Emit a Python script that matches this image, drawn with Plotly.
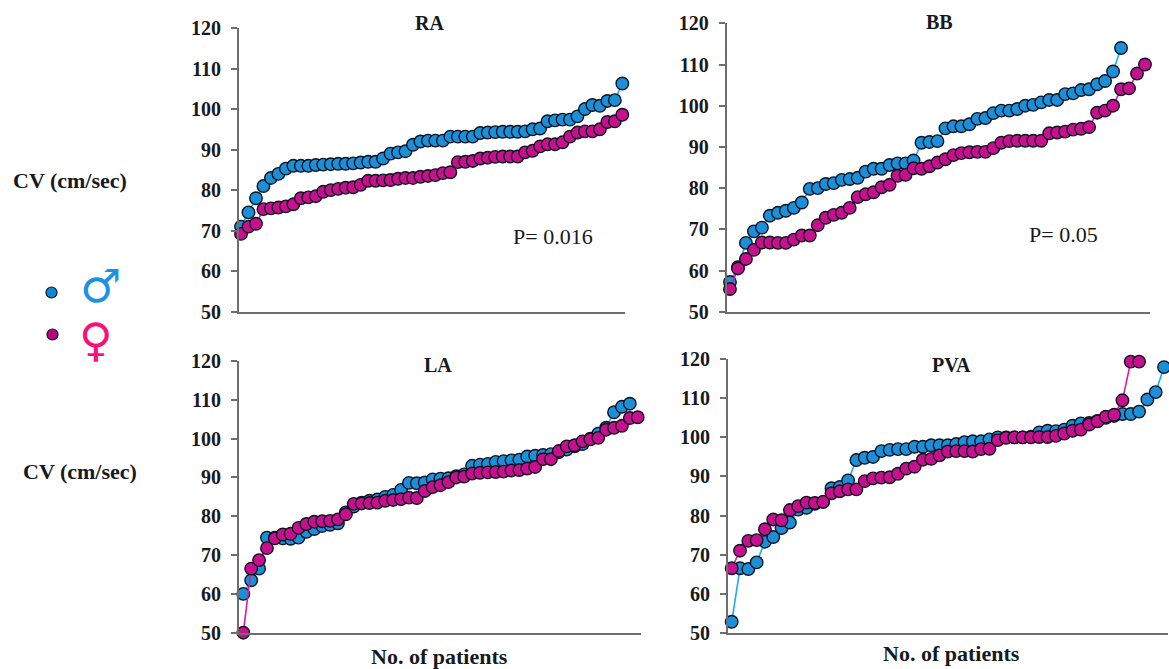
import plotly.graph_objects as go

W, H = 1169, 669

ra_male = [71, 74.5, 78, 81, 83, 84, 85.3, 86, 86, 86, 86.2, 86.3, 86.4, 86.5, 86.5, 86.6, 86.8, 87, 87, 87.8, 89, 89.3, 89.6, 91.2, 92, 92.2, 92.2, 92.2, 93.2, 93.2, 93.2, 93.2, 94.1, 94.2, 94.3, 94.4, 94.4, 94.4, 94.5, 95, 95.2, 97, 97.2, 97.4, 97.4, 98.2, 100, 101, 100.8, 102, 102.2, 106.3]
ra_female = [69.2, 71, 71.7, 75.3, 75.5, 75.7, 76, 76.5, 78, 78.2, 78.5, 79.6, 80, 80.3, 80.6, 80.7, 81.3, 82.3, 82.3, 82.4, 82.5, 82.8, 83, 83, 83.3, 83.5, 83.7, 84.2, 84.4, 86.9, 87, 87.2, 87.8, 88, 88.2, 88.3, 88.3, 88.3, 89.3, 89.7, 90.8, 91.3, 91.3, 91.8, 93.2, 94.2, 94.5, 94.5, 95, 96.8, 97, 98.6]
bb_male = [57.2, 60.8, 66.7, 69.5, 70.4, 73.3, 74, 74.5, 75.2, 76.5, 79.8, 80, 81, 81.2, 82, 82.2, 82.5, 84, 84.7, 84.7, 85.6, 86, 86, 86.7, 91, 91.2, 91.4, 94.5, 95, 95, 95.5, 96.8, 97, 98.2, 98.8, 98.8, 99.2, 100, 100.2, 100.8, 101.4, 101.4, 102.8, 103, 103.8, 104, 105.2, 106, 108.3, 114]
bb_female = [55.5, 60.5, 62.8, 65, 66.8, 66.8, 66.7, 66.7, 67.5, 68.5, 68.5, 71, 72.8, 73.5, 74, 75.2, 77.8, 78.5, 79, 80.2, 80.8, 83, 83.2, 84.8, 84.7, 85.3, 86.2, 87, 88, 88.5, 88.7, 88.8, 88.8, 89.7, 91, 91.4, 91.5, 91.5, 91.5, 91.5, 93.3, 93.5, 93.7, 94.2, 94.4, 94.8, 98.3, 98.8, 100, 104, 104.2, 107.8, 110]
la_male = [60, 63.5, 66.5, 74.5, 74.5, 74.3, 74.2, 74.5, 76, 76.7, 77.5, 77.8, 78.2, 81, 82.5, 83.5, 84, 84.3, 85, 85.5, 86.8, 88.6, 88.5, 88.7, 89.5, 89.7, 89.8, 90.3, 90.8, 93, 93.3, 93.5, 94, 94.2, 94.4, 94.6, 95.4, 95.6, 95.8, 96, 96.5, 97.2, 98, 98.6, 100, 101.3, 102.8, 106.8, 108.2, 109]
la_female = [50, 66.5, 68.7, 71.8, 74.3, 75.3, 75.5, 77, 78, 78.6, 78.7, 78.8, 79.2, 80.5, 83.2, 83.3, 83.4, 83.5, 84, 84.2, 84.4, 84.8, 84.7, 86.5, 87.5, 88, 88.8, 90, 90.2, 91, 91.2, 91.3, 91.4, 91.5, 91.8, 91.9, 92.3, 92.7, 94.7, 94.7, 96.8, 98, 98.3, 99.3, 99.8, 100.2, 102.3, 102.8, 103.3, 105.3, 105.5]
pva_male = [52.8, 66.5, 66.3, 68, 73.3, 74.5, 76.8, 78.2, 81.5, 82, 83, 83.5, 87, 87.3, 89, 94.2, 94.8, 95, 96.5, 96.8, 97, 97, 97.6, 97.6, 98, 98, 98, 98.3, 98.8, 99, 99, 99.5, 100, 100, 100, 100, 100.2, 101.3, 101.7, 101.6, 102, 103, 103.6, 103.7, 104.2, 105, 105.5, 106, 106, 106.6, 109.7, 111.6, 118]
pva_female = [66.5, 71, 73.5, 73.7, 76.5, 79, 78.8, 81.4, 82.4, 83.3, 83.2, 83.5, 85.7, 86.2, 86.7, 86.7, 88.8, 89.5, 89.7, 89.8, 90.7, 92, 92.5, 94.3, 94.5, 95.4, 96.4, 96.5, 96.5, 96.4, 97, 97.1, 99.3, 99.9, 100, 100, 100, 100.1, 100.1, 100.4, 101, 101.7, 102, 103.3, 104.1, 105.3, 105.8, 109.5, 119.4, 119.4]

y_ticks = [50, 60, 70, 80, 90, 100, 110, 120]
panels = [
    ("RA", ra_male, ra_female, (239, 625), (28, 311.7), (0.73, 52.36)),
    ("BB", bb_male, bb_female, (726.7, 1150), (23.3, 311.7), (0.59, 53.63)),
    ("LA", la_male, la_female, (239, 641), (361, 632.7), (0.455, 51.42)),
    ("PVA", pva_male, pva_female, (728, 1168), (359.3, 632.7), (0.555, 53.48)),
]

MALE_FILL, MALE_LINE = "#1b8fd8", "#18b0ee"
FEMALE_FILL, FEMALE_LINE = "#c80f8e", "#e0189f"
EDGE = "#0c1420"
SERIF = "Liberation Serif"
INK = "#161a20"


def px(x):
    return x / W


def py(y):
    return 1 - y / H


fig = go.Figure()
layout = {}
for n, (name, male, female, xdom, ydom, xr) in enumerate(panels, start=1):
    sfx = "" if n == 1 else str(n)
    for vals, fill, line, label in ((male, MALE_FILL, MALE_LINE, "Male"), (female, FEMALE_FILL, FEMALE_LINE, "Female")):
        fig.add_trace(go.Scatter(
            x=list(range(1, len(vals) + 1)), y=vals, mode="lines+markers", name=label,
            xaxis="x" + sfx, yaxis="y" + sfx, cliponaxis=False, showlegend=False,
            line=dict(color=line, width=1.6),
            marker=dict(size=12.5, color=fill, line=dict(color=EDGE, width=1.4)),
        ))
    layout["xaxis" + sfx] = dict(
        domain=[px(xdom[0]), px(xdom[1])], range=list(xr), anchor="y" + sfx, automargin=False,
        showgrid=False, zeroline=False, showticklabels=False, ticks="",
        showline=True, linecolor="#6e6e6e", linewidth=2,
    )
    layout["yaxis" + sfx] = dict(
        domain=[py(ydom[1]), py(ydom[0])], range=[50, 120], anchor="x" + sfx, automargin=False,
        tickvals=y_ticks, ticks="outside", ticklen=6, tickwidth=1.5, tickcolor="#6e6e6e",
        ticklabelstandoff=6, showgrid=False, zeroline=False,
        showline=True, linecolor="#6e6e6e", linewidth=2,
        tickfont=dict(family=SERIF, size=20, color=INK, weight="bold"),
    )


def note(text, x, y, size=22, bold=True, color=INK, family=SERIF):
    return dict(text=text, x=px(x), y=py(y), xref="paper", yref="paper", showarrow=False,
                xanchor="center", yanchor="middle",
                font=dict(family=family, size=size, color=color, weight="bold" if bold else "normal"))


annotations = [
    note("RA", 429, 23, 20), note("BB", 940, 22, 20), note("LA", 438, 365, 20), note("PVA", 951, 365, 20),
    note("P= 0.016", 553, 236, 22, False), note("P= 0.05", 1063, 235, 22, False),
    note("CV (cm/sec)", 70, 181), note("CV (cm/sec)", 80, 471),
    note("No. of patients", 439, 656), note("No. of patients", 951, 653),
    note("\u2642", 100, 286, 46, False, "#1c92e2", "DejaVu Sans"),
    note("\u2640", 96, 340, 46, False, "#fb0f78", "DejaVu Sans"),
]

shapes = [
    dict(type="circle", xref="paper", yref="paper", x0=px(46), x1=px(57), y0=py(298), y1=py(287),
         fillcolor="#0d86d6", line=dict(color=EDGE, width=1.2)),
    dict(type="circle", xref="paper", yref="paper", x0=px(47), x1=px(58), y0=py(340), y1=py(329),
         fillcolor="#b5087f", line=dict(color=EDGE, width=1.2)),
]

fig.update_layout(width=W, height=H, margin=dict(l=0, r=0, t=0, b=0, autoexpand=False), autosize=False,
                  paper_bgcolor="white", plot_bgcolor="rgba(0,0,0,0)",
                  annotations=annotations, shapes=shapes, **layout)
fig.write_html("out.html", config={"displayModeBar": False},
               post_script="document.body.style.margin='0';document.body.style.overflow='hidden';")
